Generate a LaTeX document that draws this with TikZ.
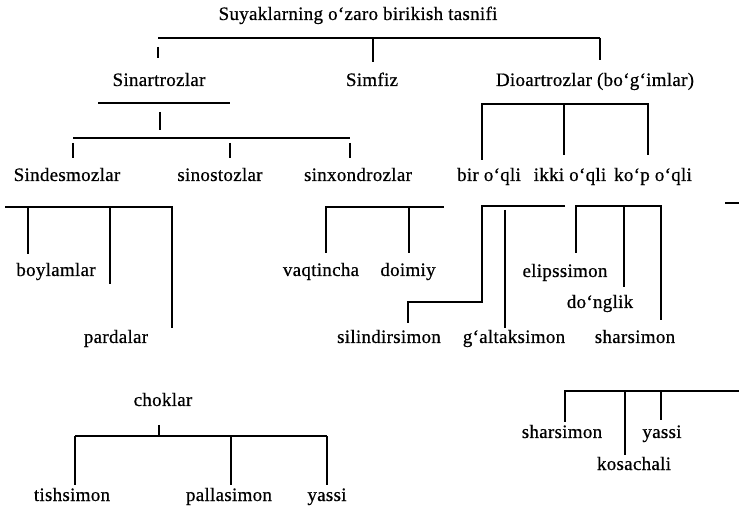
\documentclass[tikz,border=0pt]{standalone}
\usepackage{fontspec}
\setmainfont{Liberation Serif}[LetterSpace=1.5,FakeBold=0.6]
\tikzset{
  yozuv/.style={font=\fontsize{19}{22}\selectfont, inner sep=0pt, anchor=base},
  chiziq/.style={line width=1.3pt, black},
}
\begin{document}
\begin{tikzpicture}[x=1pt,y=-1pt]
  \useasboundingbox (0,0) rectangle (739,510);
  % Sarlavha
  \node[yozuv] (tasnif) at (358,20) {Suyaklarning o‘zaro birikish tasnifi};
  % Asosiy chiziq
  \coordinate (a1) at (158,38);
  \coordinate (a2) at (373,38);
  \coordinate (a3) at (600,38);
  \coordinate (a1u) at (158,47);
  \coordinate (a1d) at (158,58);
  \coordinate (a2d) at (373,62);
  \coordinate (a3d) at (600,60);
  \draw[chiziq] (a1) -- (a3);
  \draw[chiziq] (a1u) -- (a1d);
  \draw[chiziq] (a2) -- (a2d);
  \draw[chiziq] (a3) -- (a3d);
  % Birinchi qator
  \node[yozuv] (sinart) at (159,86) {Sinartrozlar};
  \node[yozuv] (simfiz) at (372,86) {Simfiz};
  \node[yozuv] (dioart) at (595,86) {Dioartrozlar (bo‘g‘imlar)};
  % Sinartrozlar tarmog'i
  \coordinate (b1) at (98,103);
  \coordinate (b2) at (230,103);
  \coordinate (b3) at (160,112);
  \coordinate (b4) at (160,130);
  \draw[chiziq] (b1) -- (b2);
  \draw[chiziq] (b3) -- (b4);
  \coordinate (c1) at (73,138);
  \coordinate (c2) at (350,138);
  \draw[chiziq] (c1) -- (c2);
  \foreach \x/\n in {73/1,230/2,350/3}{
    \coordinate (ct\n) at (\x,143);
    \coordinate (cb\n) at (\x,158);
    \draw[chiziq] (ct\n) -- (cb\n);
  }
  % Dioartrozlar tarmog'i
  \coordinate (d1) at (482,104);
  \coordinate (d2) at (564,104);
  \coordinate (d3) at (648,104);
  \coordinate (d1d) at (482,160);
  \coordinate (d2d) at (564,155);
  \coordinate (d3d) at (648,155);
  \draw[chiziq] (d1d) -- (d1) -- (d3) -- (d3d);
  \draw[chiziq] (d2) -- (d2d);
  % Ikkinchi qator
  \node[yozuv] (sindes) at (67,181) {Sindesmozlar};
  \node[yozuv] (sinost) at (220,181) {sinostozlar};
  \node[yozuv] (sinxon) at (358,181) {sinxondrozlar};
  \node[yozuv] (biroq) at (489,181) {bir o‘qli};
  \node[yozuv] (ikkioq) at (570,181) {ikki o‘qli};
  \node[yozuv] (kopoq) at (653,181) {ko‘p o‘qli};
  % Sindesmozlar tarmog'i
  \coordinate (e1) at (5,207);
  \coordinate (e2) at (28,207);
  \coordinate (e3) at (110,207);
  \coordinate (e4) at (172,207);
  \coordinate (e2d) at (28,254);
  \coordinate (e3d) at (110,284);
  \coordinate (e4d) at (172,328);
  \draw[chiziq] (e1) -- (e4) -- (e4d);
  \draw[chiziq] (e2) -- (e2d);
  \draw[chiziq] (e3) -- (e3d);
  \node[yozuv] (boylam) at (56,276) {boylamlar};
  \node[yozuv] (parda) at (116,343) {pardalar};
  % Sinxondrozlar tarmog'i
  \coordinate (f1) at (326,207);
  \coordinate (f2) at (409,207);
  \coordinate (f3) at (444,207);
  \coordinate (f1d) at (326,253);
  \coordinate (f2d) at (409,253);
  \draw[chiziq] (f1d) -- (f1) -- (f3);
  \draw[chiziq] (f2) -- (f2d);
  \node[yozuv] (vaqt) at (321,276) {vaqtincha};
  \node[yozuv] (doim) at (408,276) {doimiy};
  % Bir o'qli tarmog'i
  \coordinate (g1) at (482,206);
  \coordinate (g2) at (565,206);
  \coordinate (g3) at (482,302);
  \coordinate (g4) at (408,302);
  \coordinate (g5) at (408,323);
  \coordinate (g6) at (505,210);
  \coordinate (g7) at (505,328);
  \draw[chiziq] (g2) -- (g1) -- (g3) -- (g4) -- (g5);
  \draw[chiziq] (g6) -- (g7);
  \node[yozuv] (silind) at (389,343) {silindirsimon};
  \node[yozuv] (galtak) at (514,343) {g‘altaksimon};
  % Ko'p o'qli tarmog'i
  \coordinate (h1) at (576,206);
  \coordinate (h2) at (624,206);
  \coordinate (h3) at (661,206);
  \coordinate (h1d) at (576,253);
  \coordinate (h2d) at (624,287);
  \coordinate (h3d) at (661,320);
  \draw[chiziq] (h1d) -- (h1) -- (h3) -- (h3d);
  \draw[chiziq] (h2) -- (h2d);
  \node[yozuv] (elips) at (565,277) {elipssimon};
  \node[yozuv] (dongl) at (600,308) {do‘nglik};
  \node[yozuv] (shar) at (635,343) {sharsimon};
  \coordinate (k1) at (725,203);
  \coordinate (k2) at (739,203);
  \draw[chiziq] (k1) -- (k2);
  % Choklar
  \node[yozuv] (chok) at (163,406) {choklar};
  \coordinate (m0) at (159,425);
  \coordinate (m1) at (75,436);
  \coordinate (m2) at (159,436);
  \coordinate (m3) at (231,436);
  \coordinate (m4) at (327,436);
  \draw[chiziq] (m0) -- (m2);
  \draw[chiziq] (m1) -- (m4);
  \foreach \c in {m1,m3,m4}{
    \draw[chiziq] (\c) -- ++(0,49);
  }
  \node[yozuv] (tish) at (72,501) {tishsimon};
  \node[yozuv] (palla) at (229,501) {pallasimon};
  \node[yozuv] (yassia) at (327,501) {yassi};
  % Pastki o'ng tarmoq
  \coordinate (n1) at (565,391);
  \coordinate (n2) at (625,391);
  \coordinate (n3) at (661,391);
  \coordinate (n4) at (739,391);
  \coordinate (n1d) at (565,422);
  \coordinate (n2d) at (625,455);
  \coordinate (n3d) at (661,420);
  \draw[chiziq] (n1d) -- (n1) -- (n4);
  \draw[chiziq] (n2) -- (n2d);
  \draw[chiziq] (n3) -- (n3d);
  \node[yozuv] (shar2) at (562,438) {sharsimon};
  \node[yozuv] (yassib) at (662,438) {yassi};
  \node[yozuv] (kosa) at (634,470) {kosachali};
\end{tikzpicture}
\end{document}
